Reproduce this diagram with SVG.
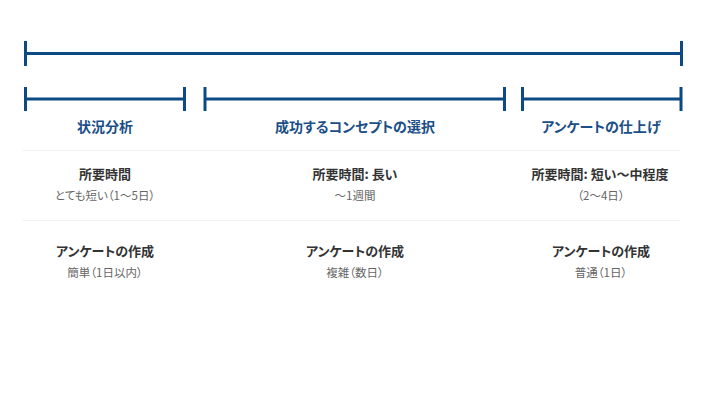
<svg xmlns="http://www.w3.org/2000/svg" width="714" height="400" viewBox="0 0 714 400">
<style>
.bar{stroke:#0d4a85;stroke-width:3;fill:none}
.sep{stroke:#f0f0f0;stroke-width:1}
text{font-family:"Noto Sans CJK JP","Noto Sans",sans-serif;text-anchor:middle;font-feature-settings:"palt"}
.title{font-size:14px;font-weight:bold;fill:#1b4f87}
.head{font-size:13px;font-weight:bold;fill:#333}
.sub{font-size:11.5px;fill:#666}
</style>
<rect width="714" height="400" fill="#fff"/>
<g id="connectors">
<path class="bar" d="M25.5 41V66M25.5 53.5H681.5M681.5 41V66"/>
<path class="bar" d="M25.5 87V111M25.5 99H184.5M184.5 87V111"/>
<path class="bar" d="M205 87V111M205 99H504.5M504.5 87V111"/>
<path class="bar" d="M522.5 87V111M522.5 99H681V111M681 87V99"/>
<line class="sep" x1="23" y1="150.5" x2="680" y2="150.5"/>
<line class="sep" x1="23" y1="220.5" x2="680" y2="220.5"/>
</g>
<g id="phase1">
<text class="title" x="105" y="132">状況分析</text>
<text class="head" x="105" y="178.5">所要時間</text>
<text class="sub" x="105" y="200">とても短い（1〜5日）</text>
<text class="head" x="105" y="256">アンケートの作成</text>
<text class="sub" x="105" y="277">簡単（1日以内）</text>
</g>
<g id="phase2">
<text class="title" x="355" y="132">成功するコンセプトの選択</text>
<text class="head" x="355" y="178.5">所要時間: 長い</text>
<text class="sub" x="355" y="200">〜1週間</text>
<text class="head" x="355" y="256">アンケートの作成</text>
<text class="sub" x="355" y="277">複雑（数日）</text>
</g>
<g id="phase3">
<text class="title" x="601" y="132">アンケートの仕上げ</text>
<text class="head" x="600" y="178.5">所要時間: 短い〜中程度</text>
<text class="sub" x="601" y="200">（2〜4日）</text>
<text class="head" x="601" y="256">アンケートの作成</text>
<text class="sub" x="601" y="277">普通（1日）</text>
</g>
</svg>
